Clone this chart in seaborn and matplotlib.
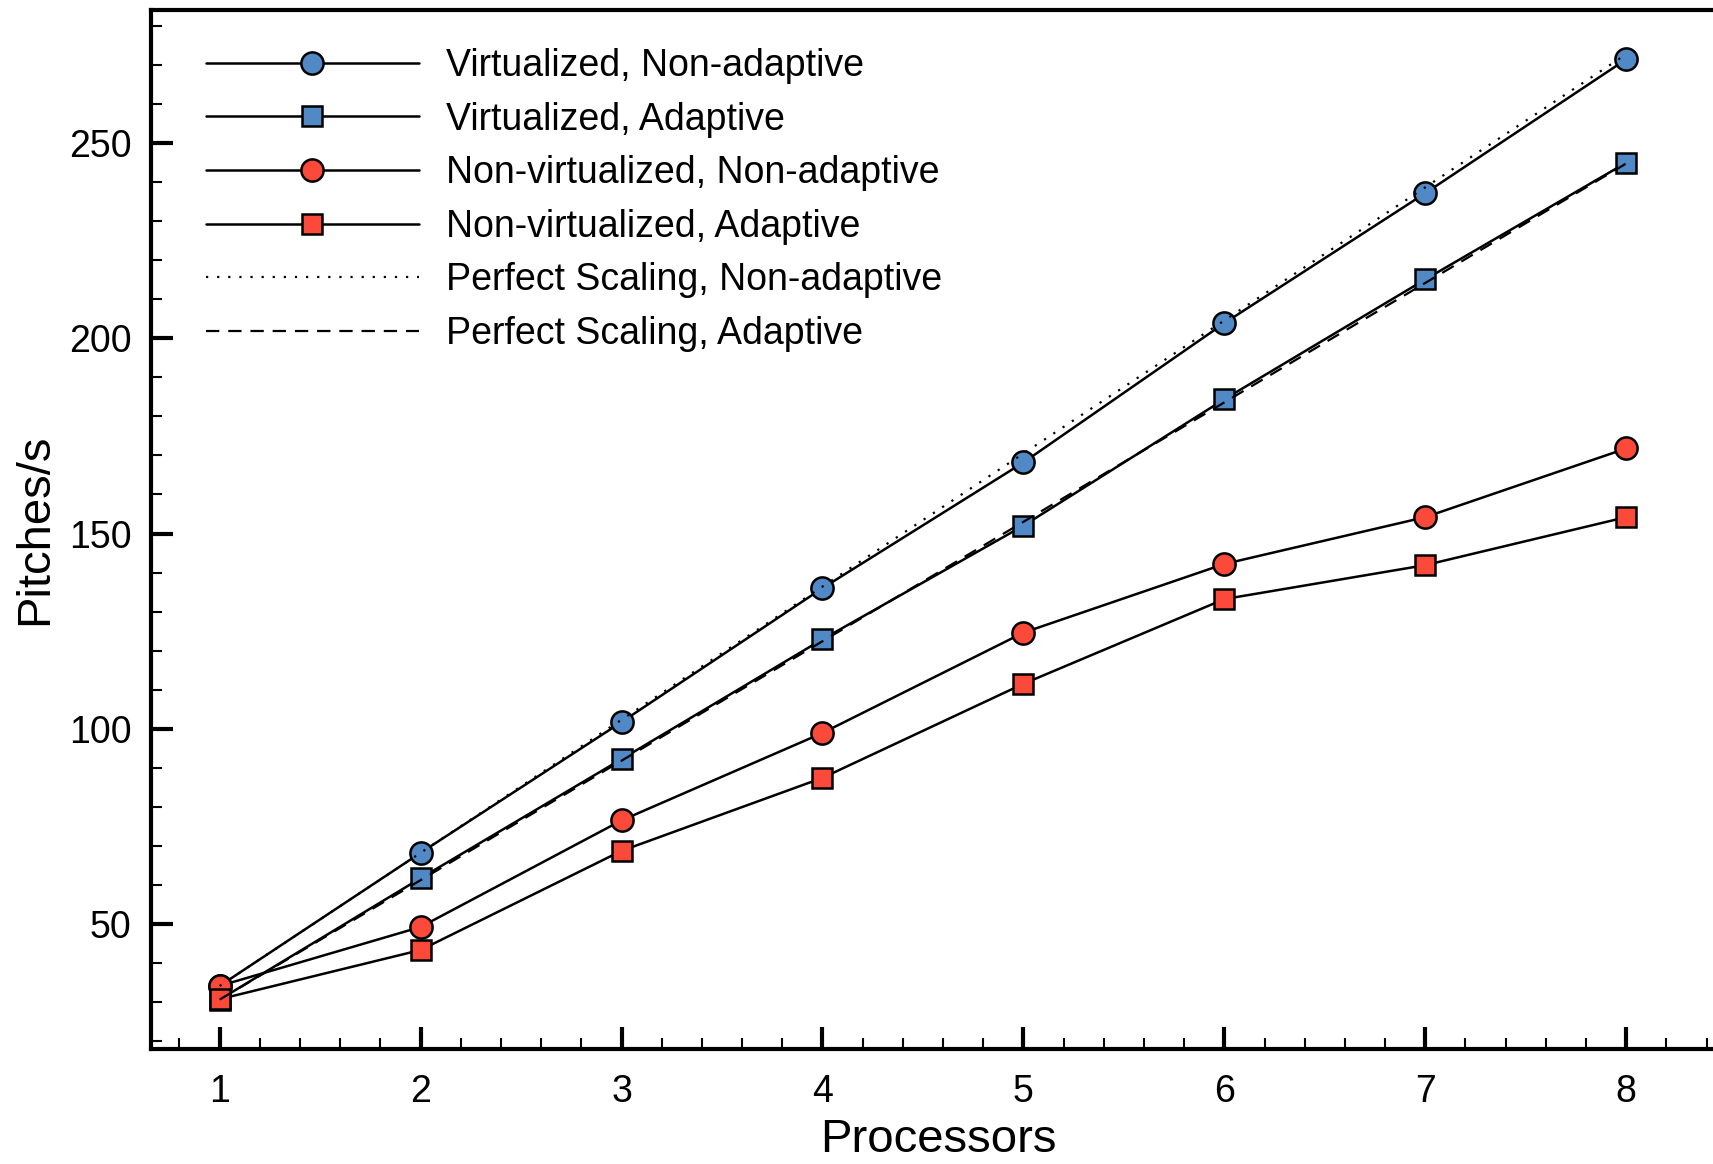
import numpy as np
import pandas as pd
import matplotlib
matplotlib.use('Agg')
import matplotlib.pyplot as plt
import seaborn as sns

sns.set_style('ticks')
plt.rcParams['font.family'] = ['Liberation Sans', 'DejaVu Sans']
plt.rcParams['text.color'] = 'black'
plt.rcParams['axes.labelcolor'] = 'black'
plt.rcParams['axes.edgecolor'] = 'black'
plt.rcParams['xtick.color'] = 'black'
plt.rcParams['ytick.color'] = 'black'

processors = [1, 2, 3, 4, 5, 6, 7, 8]

virt_nonadaptive = [34.1, 68.2, 101.7, 136.0, 168.2, 203.9, 237.2, 271.5]
virt_adaptive = [30.6, 61.7, 92.2, 122.9, 152.0, 184.4, 215.1, 245.0]
nonvirt_nonadaptive = [34.1, 49.2, 76.5, 98.9, 124.6, 142.2, 154.2, 171.8]
nonvirt_adaptive = [30.7, 43.3, 68.7, 87.4, 111.5, 133.2, 141.9, 154.2]
perfect_nonadaptive = [34.1, 68.2, 102.3, 136.4, 170.5, 204.6, 238.7, 272.8]
perfect_adaptive = [30.6, 61.2, 91.8, 122.4, 153.0, 183.6, 214.2, 244.8]

labels = ['Virtualized, Non-adaptive', 'Virtualized, Adaptive',
          'Non-virtualized, Non-adaptive', 'Non-virtualized, Adaptive',
          'Perfect Scaling, Non-adaptive', 'Perfect Scaling, Adaptive']

blue = '#5089c6'
red = '#fc4a3a'

fig = plt.figure(figsize=(17.13, 11.64), dpi=100)
ax = fig.add_axes([0.088, 0.099, 0.92, 0.892])

# measured series: black line, coloured marker
series = [
    (virt_nonadaptive, 'o', blue, 16),
    (virt_adaptive, 's', blue, 14),
    (nonvirt_nonadaptive, 'o', red, 16),
    (nonvirt_adaptive, 's', red, 14),
]
for (vals, mk, col, ms), lab in zip(series, labels[:4]):
    df = pd.DataFrame({'Processors': processors, 'Pitches/s': vals})
    sns.lineplot(data=df, x='Processors', y='Pitches/s', ax=ax, color='black',
                 lw=1.8, marker=mk, markersize=ms, markerfacecolor=col,
                 markeredgecolor='black', markeredgewidth=1.8, label=lab, zorder=3)

# ideal scaling references, drawn over the markers
for vals, ls, lab in [(perfect_nonadaptive, (0, (1, 4)), labels[4]),
                      (perfect_adaptive, (0, (6, 4)), labels[5])]:
    df = pd.DataFrame({'Processors': processors, 'Pitches/s': vals})
    sns.lineplot(data=df, x='Processors', y='Pitches/s', ax=ax, color='black',
                 lw=1.6, linestyle=ls, label=lab, zorder=4)

ax.set_xlim(0.657, 8.5)
ax.set_ylim(18, 284)
ax.set_xticks(processors)
ax.set_xticks(np.arange(0.8, 8.5, 0.2), minor=True)
ax.set_yticks([50, 100, 150, 200, 250])
ax.set_yticks(np.arange(20, 285, 10), minor=True)

ax.tick_params(axis='both', which='major', direction='in', length=16, width=3,
               labelsize=27, top=False, right=False)
ax.tick_params(axis='x', which='major', pad=18)
ax.tick_params(axis='y', which='major', pad=14)
ax.tick_params(axis='both', which='minor', direction='in', length=8, width=1.5,
               top=False, right=False)
for side in ['left', 'bottom', 'top']:
    ax.spines[side].set_linewidth(3)
ax.spines['right'].set_visible(False)

ax.set_xlabel('Processors', fontsize=34, labelpad=6)
ax.set_ylabel('Pitches/s', fontsize=34, labelpad=8)

leg = ax.legend(loc='upper left', frameon=False, fontsize=27, handlelength=5.7,
                handletextpad=0.7, labelspacing=0.47, borderaxespad=0.6,
                bbox_to_anchor=(0.011, 1.0))

fig.savefig('out.png', dpi=100)
